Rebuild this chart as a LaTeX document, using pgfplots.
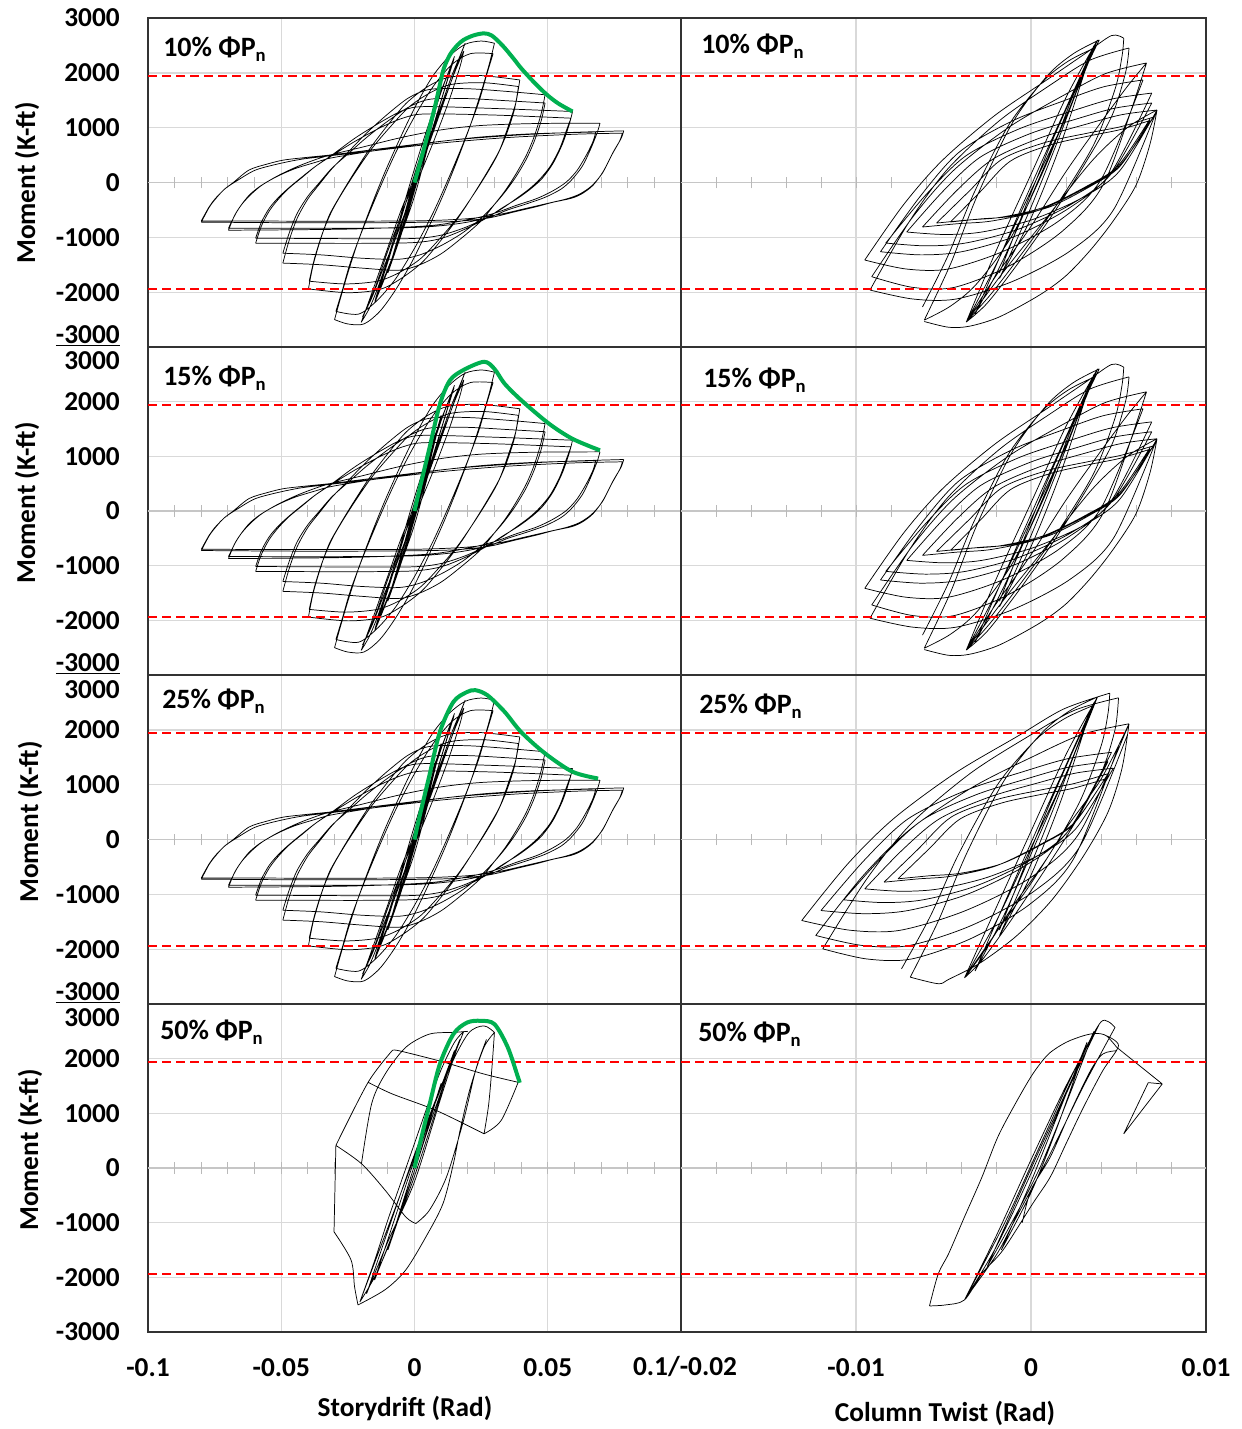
\documentclass[border=0pt]{standalone}
\usepackage{pgfplots}
\pgfplotsset{compat=1.18}
\usepackage{pgfplotstable}
\usepackage{fontspec}
\setmainfont{Carlito}
\definecolor{xlgreen}{RGB}{0,176,80}
\definecolor{gridgray}{RGB}{217,217,217}
\newcommand{\lab}{\fontsize{20.5}{24}\selectfont\bfseries}
\newcommand{\ttl}{\fontsize{21}{24}\selectfont\bfseries}
\newcommand{\sub}{\raisebox{-3.75pt}{\fontsize{14}{14}\selectfont\bfseries n}}

\pgfplotsset{
  panel/.style={
    scale only axis, anchor=north west,
    ymin=-3000, ymax=3000, ytick={-3000,-2000,...,3000},
    yticklabels={}, xticklabels={},
    xmajorgrids, ymajorgrids,
    grid style={draw=gridgray, line width=1pt},
    major tick length=0pt,
    axis line style={draw=black!80, line width=0.9pt},
    tick label style={font=\lab},
    scaled x ticks=false, scaled y ticks=false,
    unbounded coords=jump,
    yticklabel style={anchor=east, inner sep=0pt, xshift=-21pt},
    xticklabel style={anchor=north, inner sep=0pt, yshift=-19.5pt},
  },
  leftp/.style={panel, width=399.75pt, xmin=-0.1, xmax=0.1, xtick={-0.1,-0.05,0,0.05,0.1},
     yticklabels={{},-2000,-1000,0,1000,2000,{}}},
  rightp/.style={panel, width=393.75pt, xmin=-0.02, xmax=0.01, xtick={-0.02,-0.01,0,0.01}},
  loop/.style={black, line width=0.55pt, no markers, smooth, tension=0.5},
  sloop/.style={black, line width=0.55pt, no markers},
  bb/.style={xlgreen, line width=3pt, no markers, smooth, tension=0.5},
  rl/.style={red, line width=1.3pt, dash pattern=on 7pt off 3.5pt, no markers},
}
\newcommand{\zeroL}{%
 \draw[gray!45, line width=0.9pt] (axis cs:-0.1,0) -- (axis cs:0.1,0);
 \pgfplotsinvokeforeach{-0.09,-0.08,-0.07,-0.06,-0.05,-0.04,-0.03,-0.02,-0.01,0,0.01,0.02,0.03,0.04,0.05,0.06,0.07,0.08,0.09}{\draw[gray!55, line width=0.75pt] (axis cs:##1,-105) -- (axis cs:##1,105);}}
\newcommand{\zeroR}{%
 \draw[gray!45, line width=0.9pt] (axis cs:-0.02,0) -- (axis cs:0.01,0);
 \pgfplotsinvokeforeach{-0.018,-0.016,-0.014,-0.012,-0.01,-0.008,-0.006,-0.004,-0.002,0,0.002,0.004,0.006,0.008}{\draw[gray!55, line width=0.75pt] (axis cs:##1,-105) -- (axis cs:##1,105);}}
\newcommand{\redL}{\addplot[rl] coordinates {(-0.1,1940) (0.1,1940)};\addplot[rl] coordinates {(-0.1,-1940) (0.1,-1940)};}
\newcommand{\redR}{\addplot[rl] coordinates {(-0.02,1940) (0.01,1940)};\addplot[rl] coordinates {(-0.02,-1940) (0.01,-1940)};}

\pgfplotstableread{
x y
-0.005 -800
0.000 0
0.005 850
nan nan
0.005 850
0.000 -60
-0.005 -800
nan nan
-0.0075 -1250
0.000 50
0.0075 1300
nan nan
0.0075 1300
0.000 -100
-0.0075 -1250
nan nan
-0.010 -1650
-0.005 -800
0.000 80
0.005 900
0.010 1750
nan nan
0.010 1750
0.005 750
0.000 -150
-0.005 -950
-0.010 -1650
nan nan
-0.015 -2200
-0.010 -1450
-0.005 -650
0.000 150
0.005 900
0.010 1650
0.015 2300
nan nan
0.015 2300
0.010 1500
0.005 700
0.000 -150
-0.005 -900
-0.010 -1600
-0.015 -2200
nan nan
-0.0148 -2150
-0.007 -900
0.000 250
0.007 1300
0.0148 2250
nan nan
0.0148 2250
0.007 1000
0.000 -250
-0.007 -1200
-0.0148 -2150
nan nan
-0.020 -2550
-0.017 -2150
-0.013 -1600
-0.009 -1050
-0.005 -500
0.000 100
0.005 750
0.010 1400
0.014 1950
0.017 2300
0.019 2540
nan nan
0.019 2540
0.016 2150
0.012 1600
0.008 1050
0.004 500
0.000 -100
-0.005 -750
-0.010 -1400
-0.014 -1950
-0.017 -2300
-0.020 -2550
nan nan
-0.0195 -2450
-0.015 -1950
-0.010 -1250
-0.005 -600
0.000 50
0.005 700
0.010 1350
0.015 2000
0.0185 2400
nan nan
0.0185 2400
0.017 2100
0.013 1500
0.008 850
0.003 250
-0.002 -350
-0.007 -1000
-0.012 -1600
-0.016 -2100
-0.0195 -2450
nan nan
-0.030 -2500
-0.028 -2150
-0.025 -1650
-0.021 -1050
-0.016 -400
-0.011 200
-0.005 850
0.001 1450
0.007 1950
0.013 2300
0.019 2520
0.025 2580
0.030 2540
nan nan
0.030 2540
0.028 2150
0.025 1650
0.021 1050
0.016 400
0.011 -200
0.005 -850
-0.001 -1450
-0.007 -1950
-0.013 -2350
-0.019 -2580
-0.025 -2580
-0.030 -2500
nan nan
-0.0295 -2350
-0.027 -1950
-0.024 -1450
-0.019 -800
-0.013 -100
-0.007 550
0.000 1200
0.007 1750
0.014 2150
0.021 2350
0.0295 2350
nan nan
0.0295 2350
0.027 1950
0.024 1450
0.019 800
0.013 100
0.007 -550
0.000 -1200
-0.007 -1750
-0.014 -2150
-0.021 -2400
-0.0295 -2350
nan nan
-0.0398 -1940
-0.038 -1500
-0.035 -1000
-0.032 -600
-0.028 -250
-0.023 150
-0.017 600
-0.010 1050
-0.003 1450
0.005 1750
0.013 1920
0.025 1950
0.0395 1870
nan nan
0.0395 1870
0.038 1450
0.035 1000
0.032 600
0.028 250
0.023 -150
0.017 -600
0.010 -1050
0.003 -1450
-0.005 -1750
-0.013 -1950
-0.025 -2010
-0.0398 -1940
nan nan
-0.0395 -1800
-0.0375 -1380
-0.0345 -920
-0.031 -520
-0.027 -180
-0.022 200
-0.016 620
-0.009 1020
-0.002 1380
0.006 1640
0.014 1790
0.026 1820
0.039 1750
nan nan
0.039 1750
0.0375 1330
0.0345 880
0.031 490
0.027 150
0.022 -230
0.016 -650
0.009 -1050
0.002 -1400
-0.006 -1650
-0.014 -1800
-0.026 -1850
-0.0395 -1800
nan nan
-0.0494 -1470
-0.047 -1050
-0.044 -650
-0.040 -300
-0.036 -50
-0.031 250
-0.025 550
-0.018 900
-0.010 1250
-0.002 1550
0.006 1700
0.020 1710
0.035 1660
0.049 1600
nan nan
0.049 1600
0.0475 1250
0.045 850
0.042 500
0.038 150
0.034 -150
0.030 -400
0.025 -700
0.018 -1000
0.010 -1300
0.002 -1500
-0.006 -1600
-0.020 -1560
-0.035 -1500
-0.0494 -1470
nan nan
-0.0494 -1290
-0.047 -920
-0.044 -560
-0.040 -250
-0.036 -20
-0.031 260
-0.025 520
-0.018 820
-0.010 1120
-0.002 1380
0.006 1520
0.020 1530
0.035 1490
0.049 1450
nan nan
0.049 1450
0.0475 1120
0.045 760
0.042 430
0.038 100
0.034 -170
0.030 -400
0.025 -650
0.018 -920
0.010 -1150
0.002 -1320
-0.006 -1400
-0.020 -1380
-0.035 -1320
-0.0494 -1290
nan nan
-0.0596 -1106
-0.0575 -800
-0.0545 -520
-0.051 -300
-0.047 -100
-0.042 100
-0.037 300
-0.031 500
-0.022 820
-0.012 1120
-0.004 1320
0.004 1385
0.030 1350
0.0593 1295
nan nan
0.0593 1295
0.058 1050
0.0555 700
0.052 350
0.048 80
0.044 -100
0.039 -280
0.033 -460
0.027 -650
0.019 -850
0.010 -1020
0.000 -1095
-0.020 -1110
-0.0596 -1106
nan nan
-0.0596 -1015
-0.0575 -730
-0.0545 -470
-0.051 -270
-0.047 -90
-0.042 110
-0.037 300
-0.031 490
-0.022 760
-0.012 1020
-0.004 1180
0.004 1250
0.030 1230
0.0587 1173
nan nan
0.0587 1173
0.057 950
0.0545 620
0.051 300
0.047 60
0.043 -120
0.038 -300
0.033 -470
0.027 -640
0.019 -820
0.010 -960
0.000 -1020
-0.020 -1025
-0.0596 -1015
nan nan
-0.0698 -833
-0.067 -560
-0.0645 -380
-0.061 -200
-0.057 -40
-0.051 130
-0.044 290
-0.037 420
-0.031 510
-0.020 640
-0.005 820
0.010 960
0.025 1040
0.045 1075
0.0696 1082
nan nan
0.0696 1082
0.0685 900
0.066 600
0.063 300
0.059 50
0.055 -120
0.049 -270
0.042 -390
0.035 -500
0.027 -650
0.015 -760
0.000 -820
-0.030 -835
-0.0698 -833
nan nan
-0.0698 -870
-0.0675 -600
-0.065 -410
-0.062 -230
-0.058 -70
-0.052 100
-0.045 250
-0.037 370
-0.031 450
-0.015 580
0.005 720
0.025 830
0.045 890
0.068 920
nan nan
0.068 920
0.067 750
0.0645 500
0.061 220
0.057 10
0.052 -150
0.046 -290
0.038 -420
0.030 -560
0.020 -680
0.005 -790
-0.025 -850
-0.0698 -870
nan nan
-0.080 -723
-0.077 -450
-0.0745 -290
-0.0715 -130
-0.068 0
-0.062 230
-0.055 340
-0.049 410
-0.040 460
-0.031 505
-0.011 626
0.015 778
0.040 869
0.060 915
0.0785 942
nan nan
0.0785 942
0.0775 800
0.0745 550
0.0708 200
0.067 -50
0.063 -200
0.059 -286
0.052 -360
0.046 -438
0.038 -530
0.0274 -650
0.0146 -711
-0.005 -730
-0.040 -735
-0.080 -723
nan nan
-0.080 -700
-0.077 -440
-0.0745 -280
-0.071 -110
-0.067 20
-0.060 220
-0.052 330
-0.043 420
-0.033 480
-0.015 580
0.010 720
0.035 820
0.060 880
0.078 900
nan nan
0.078 900
0.077 760
0.074 500
0.0705 170
0.0665 -60
0.062 -210
0.057 -300
0.050 -380
0.042 -470
0.032 -580
0.020 -660
0.000 -700
-0.040 -705
-0.080 -700
}\LeftLoops

\pgfplotstableread{
x y
-0.0046 -720
-0.00289 -165
-0.00118 390
0.0011 686
0.00338 853
0.00509 964
0.0068 1130
nan nan
-0.0054 -740
-0.00354 -160
-0.00168 420
0.0008 729
0.00328 903
0.00514 1019
0.0070 1193
nan nan
-0.0062 -812
-0.00419 -129
-0.00218 426
0.0005 810
0.00318 1066
0.00519 1237
0.0072 1322
nan nan
-0.0071 -903
-0.0050 -150
-0.0029 462
-0.0001 885
0.0027 1168
0.0048 1356
0.0069 1450
nan nan
-0.0083 -1104
-0.00602 -229
-0.00374 482
-0.0007 975
0.00234 1303
0.00462 1522
0.0069 1631
nan nan
-0.0086 -1262
-0.00635 -260
-0.0041 555
-0.0011 1118
0.0019 1494
0.00415 1745
0.0064 1870
nan nan
-0.0091 -1718
-0.00675 -627
-0.00439 231
-0.00125 1011
0.00189 1595
0.00425 1985
0.0066 2180
nan nan
-0.0092 -1961
-0.00698 -725
-0.00476 246
-0.0018 1129
0.00116 1791
0.00338 2232
0.0056 2453
nan nan
-0.0095 -1414
-0.00728 -403
-0.00506 406
-0.0021 1215
0.00086 1862
0.00308 2347
0.0046 2680
0.0053 2630
nan nan
-0.0061 -2510
-0.0046 -1488
-0.0031 -262
-0.0011 1067
0.0009 1936
0.0024 2345
0.0039 2600
nan nan
-0.0062 -2270
-0.00473 -1326
-0.00326 -193
-0.0013 1034
0.00066 1836
0.00213 2214
0.0036 2450
nan nan
0.0068 1130
0.00509 298
0.00338 -72
0.0011 -442
-0.00118 -618
-0.00289 -664
-0.0046 -720
nan nan
0.0068 1160
0.00497 305
0.00314 -75
0.0007 -455
-0.00174 -635
-0.00357 -683
-0.0054 -740
nan nan
0.0070 1193
0.00502 291
0.00304 -110
0.0004 -511
-0.00224 -702
-0.00422 -752
-0.0062 -812
nan nan
0.0072 1322
0.00506 210
0.00291 -280
0.00005 -680
-0.00281 -903
-0.00496 -948
-0.0071 -903
nan nan
0.0069 1450
0.00462 173
0.00234 -389
-0.0007 -849
-0.00374 -1104
-0.00602 -1155
-0.0083 -1104
nan nan
0.0069 1631
0.00458 185
0.00225 -452
-0.00085 -973
-0.00395 -1262
-0.00628 -1320
-0.0086 -1262
nan nan
0.0064 1870
0.00402 64
0.00163 -692
-0.00155 -1250
-0.00473 -1578
-0.00712 -1578
-0.0095 -1414
nan nan
0.0066 2180
0.00425 36
0.00189 -860
-0.00125 -1523
-0.00439 -1913
-0.00675 -1913
-0.0091 -1718
nan nan
0.0072 1322
0.00474 -484
0.00228 -1239
-0.0010 -1797
-0.00428 -2125
-0.00674 -2125
-0.0092 -1961
nan nan
0.0072 1322
0.0068 700
0.0060 -50
0.0047 -700
0.0034 -1231
0.0020 -1700
0.0005 -2050
-0.0018 -2450
-0.0035 -2620
-0.0047 -2640
-0.0061 -2535
nan nan
0.0053 2630
0.0052 2300
0.0048 1700
0.0036 700
0.0017 -300
-0.0003 -1200
-0.0022 -2000
-0.0037 -2545
nan nan
0.0056 2453
0.0054 2000
0.0046 1200
0.0030 300
0.0012 -600
-0.0008 -1500
-0.0025 -2200
-0.0037 -2545
nan nan
0.0039 2600
0.0024 1578
0.0009 352
-0.0011 -977
-0.0031 -1846
-0.0046 -2254
-0.0061 -2510
nan nan
-0.0037 -2545
-0.002 -1250
0.000 150
0.002 1550
0.0038 2600
nan nan
0.0038 2600
0.002 1200
0.000 -150
-0.002 -1500
-0.0037 -2545
nan nan
-0.0032 -2400
-0.0015 -1150
0.0005 300
0.0022 1500
0.0036 2500
nan nan
0.0036 2500
0.0022 1350
0.0005 100
-0.0015 -1350
-0.0032 -2400
nan nan
-0.0018 -1750
0.000 -450
0.0017 900
0.0033 2250
nan nan
0.0033 2250
0.0017 700
0.000 -650
-0.0018 -1750
nan nan
-0.0037 -2545
-0.002 -1700
0.000 -800
0.002 200
0.004 1100
0.0055 1750
0.0066 2180
nan nan
-0.0037 -2545
-0.0015 -1600
0.001 -600
0.0035 400
0.0055 1000
0.0072 1322
nan nan
0.0038 2600
0.001 600
-0.0018 -1650
}\RightLoops

\pgfplotstableread{
x y
-0.0076 -717
-0.00583 -172
-0.00406 373
-0.0017 664
0.00066 827
0.00243 936
0.0042 1100
nan nan
-0.0084 -778
-0.00648 -185
-0.00456 409
-0.002 725
0.00056 903
0.00248 1022
0.0044 1200
nan nan
-0.0095 -900
-0.00737 -196
-0.00524 376
-0.0024 772
0.00044 1036
0.00257 1212
0.0047 1300
nan nan
-0.0107 -1100
-0.00843 -294
-0.00617 362
-0.00315 815
-0.00013 1118
0.00214 1319
0.0044 1420
nan nan
-0.0120 -1295
-0.00951 -372
-0.00702 378
-0.0037 898
-0.00038 1244
0.00211 1475
0.0046 1590
nan nan
-0.0123 -1750
-0.00962 -669
-0.00693 180
-0.00335 952
0.00023 1531
0.00292 1917
0.0056 2110
nan nan
-0.0119 -1994
-0.00937 -712
-0.00683 295
-0.00345 1211
-0.00007 1897
0.00247 2355
0.0050 2584
nan nan
-0.0131 -1477
-0.01046 -440
-0.00782 389
-0.0043 1218
-0.00078 1881
0.00186 2379
0.0045 2669
nan nan
-0.0069 -2510
-0.0053 -1488
-0.00369 -262
-0.00155 1067
0.00059 1936
0.0022 2345
0.0038 2600
nan nan
-0.0074 -2359
-0.00575 -1397
-0.0041 -243
-0.0019 1007
0.0003 1825
0.00195 2210
0.0036 2450
nan nan
0.0042 1100
0.00243 282
0.00066 -81
-0.0017 -444
-0.00406 -617
-0.00583 -662
-0.0076 -717
nan nan
0.0044 1200
0.00248 310
0.00056 -86
-0.002 -481
-0.00456 -669
-0.00648 -719
-0.0084 -778
nan nan
0.0047 1300
0.00257 200
0.00044 -284
-0.0024 -680
-0.00524 -900
-0.00737 -944
-0.0095 -900
nan nan
0.0044 1420
0.00214 160
-0.00013 -394
-0.00315 -848
-0.00617 -1100
-0.00843 -1150
-0.0107 -1100
nan nan
0.0046 1590
0.00211 148
-0.00038 -487
-0.0037 -1006
-0.00702 -1295
-0.00951 -1353
-0.0120 -1295
nan nan
0.0056 2110
0.0028 137
0.00001 -688
-0.00375 -1298
-0.00749 -1656
-0.0103 -1656
-0.0131 -1477
nan nan
0.0055 1900
0.00283 -107
0.00016 -947
-0.0034 -1567
-0.00696 -1933
-0.00963 -1933
-0.0123 -1750
nan nan
0.0050 1700
0.00247 -332
-0.00007 -1181
-0.00345 -1809
-0.00683 -2179
-0.00937 -2179
-0.0119 -1994
nan nan
0.0056 2110
0.0052 1300
0.0044 500
0.0030 -300
0.0012 -1100
-0.0008 -1750
-0.0029 -2250
-0.0047 -2550
-0.0053 -2630
-0.0069 -2510
nan nan
0.0045 2669
0.0044 2300
0.0040 1700
0.0028 700
0.0010 -300
-0.0010 -1200
-0.0026 -2000
-0.0038 -2523
nan nan
0.0050 2584
0.0048 2000
0.0040 1200
0.0025 300
0.0007 -600
-0.0012 -1500
-0.0028 -2200
-0.0038 -2523
nan nan
-0.0038 -2523
-0.002 -1250
0.000 150
0.002 1550
0.0038 2600
nan nan
0.0038 2600
0.002 1200
0.000 -150
-0.002 -1500
-0.0038 -2523
nan nan
-0.0032 -2400
-0.0015 -1150
0.0005 300
0.0022 1500
0.0036 2500
nan nan
0.0036 2500
0.0022 1350
0.0005 100
-0.0015 -1350
-0.0032 -2400
nan nan
-0.0018 -1750
0.000 -450
0.0017 900
0.0033 2250
nan nan
0.0033 2250
0.0017 700
0.000 -650
-0.0018 -1750
nan nan
-0.0038 -2523
-0.002 -1700
0.000 -800
0.002 200
0.004 1100
0.0056 2110
nan nan
0.0038 2600
0.001 600
-0.0018 -1650
}\RightLoopsC

\pgfplotstableread{
x y
-0.0205 -2450
-0.015 -1700
-0.010 -950
-0.005 -250
0.000 450
0.005 1150
0.010 1800
0.015 2300
0.0185 2500
nan nan
0.0185 2500
0.014 1950
0.010 1400
0.005 700
0.000 -50
-0.005 -750
-0.010 -1450
-0.015 -2000
-0.0205 -2450
nan nan
-0.018 -2300
-0.010 -1150
0.000 250
0.010 1500
0.017 2350
nan nan
0.017 2350
0.010 1300
0.000 -250
-0.010 -1350
-0.018 -2300
nan nan
-0.015 -2050
0.000 150
0.015 2150
nan nan
0.015 2150
0.000 -150
-0.015 -2050
nan nan
-0.010 -1500
0.000 50
0.010 1550
nan nan
0.010 1550
0.000 -50
-0.010 -1500
nan nan
-0.0205 -2450
-0.012 -1350
0.000 200
0.012 1700
0.020 2450
0.026 2600
0.030 2480
nan nan
-0.0212 -2505
-0.011 -2225
-0.0033 -1866
0.0043 -1258
0.0107 -650
0.0146 80
0.0171 690
0.021 1480
0.026 2200
0.030 2480
nan nan
0.030 2480
0.029 1800
0.0278 1150
0.0261 626
nan nan
0.0261 626
0.0325 869
0.0389 1568
nan nan
0.0389 1568
0.026 1720
0.010 1950
-0.0059 2146
-0.0084 2146
nan nan
-0.0084 2146
-0.0174 1568
-0.0295 413
nan nan
-0.0295 413
-0.0302 -1167
nan nan
-0.0302 -1167
-0.0238 -1684
-0.0225 -2170
-0.0212 -2505
nan nan
-0.0174 1568
-0.0084 1356
0.0082 1052
0.0261 626
nan nan
-0.0295 413
-0.0199 79
-0.011 -407
-0.0033 -894
0.0005 -1015
nan nan
0.0005 -1015
0.0056 -772
0.012 -164
0.0184 869
0.023 1800
0.027 2350
nan nan
-0.0199 79
-0.0161 1173
-0.011 1720
-0.0033 2207
0.0056 2450
0.0146 2480
0.020 2500
}\LeftLoopsD

\pgfplotstableread{
x y
-0.0058 -2523
-0.0053 -1936
-0.0047 -1562
-0.0038 -894
-0.0028 -164
-0.0019 565
-0.0009 1173
0.0001 1720
0.0010 2085
0.0020 2298
0.0030 2420
0.0037 2462
0.0043 2420
0.0049 2207
nan nan
0.0043 2420
0.0050 2237
0.0041 1781
0.0030 1112
0.0020 444
0.0011 -164
0.0001 -650
-0.0016 -1501
-0.0028 -1927
-0.0038 -2413
-0.0049 -2505
-0.0058 -2523
nan nan
-0.0038 -2413
-0.0020 -1250
0.0000 150
0.0020 1500
0.0039 2632
nan nan
0.0039 2632
0.0020 1350
0.0000 -100
-0.0020 -1450
-0.0038 -2413
nan nan
-0.0038 -2413
-0.0015 -1000
0.0005 400
0.0025 1800
0.0039 2632
0.0044 2680
0.0048 2571
nan nan
0.0048 2571
0.0040 2100
0.0030 1500
0.0020 850
0.0010 200
0.0000 -400
-0.0010 -1000
-0.0020 -1600
-0.0038 -2413
nan nan
-0.0017 -1500
0.0000 -250
0.0015 950
0.0032 2300
nan nan
0.0032 2300
0.0015 750
0.0000 -450
-0.0017 -1500
nan nan
-0.0025 -1800
0.0003 200
0.0036 2500
nan nan
0.0036 2500
0.0005 0
-0.0025 -1800
nan nan
0.0049 2146
0.0041 2085
0.0034 1781
0.0022 990
0.0011 200
0.0000 -400
-0.0005 -1000
}\RightLoopsD

\pgfplotstableread{
x y
0.0049 2207
0.0075 1538
nan nan
0.0075 1538
0.0067 1562
nan nan
0.0067 1562
0.0053 626
nan nan
0.0053 626
0.0075 1538
}\RightTail

\begin{document}
\begin{tikzpicture}
\useasboundingbox (0,0) rectangle (931.5pt,-1071.75pt);

\begin{axis}[leftp, at={(111pt,-13.5pt)}, height=246.75pt]
\zeroL
\addplot[loop] table {\LeftLoops};
\redL
\addplot[bb] coordinates {(0,0) (0.003,520) (0.0056,990) (0.008,1450) (0.0095,1780) (0.011,2080) (0.0133,2330) (0.016,2500) (0.0184,2600) (0.022,2680) (0.026,2720) (0.029,2680) (0.033,2500) (0.037,2270) (0.040,2085) (0.045,1820) (0.0497,1600) (0.054,1440) (0.0593,1295)};
\end{axis}
\begin{axis}[rightp, at={(510.75pt,-13.5pt)}, height=246.75pt]
\zeroR
\addplot[loop] table {\RightLoops};
\redR
\end{axis}

\begin{axis}[leftp, at={(111pt,-260.25pt)}, height=246pt]
\zeroL
\addplot[loop] table {\LeftLoops};
\redL
\addplot[bb] coordinates {(0,0) (0.0018,380) (0.0056,1150) (0.0095,1950) (0.0133,2390) (0.0184,2580) (0.0261,2730) (0.030,2600) (0.0338,2330) (0.0402,2020) (0.0504,1600) (0.0593,1320) (0.0696,1110)};
\end{axis}
\begin{axis}[rightp, at={(510.75pt,-260.25pt)}, height=246pt]
\zeroR
\addplot[loop] table {\RightLoops};
\redR
\end{axis}

\begin{axis}[leftp, at={(111pt,-506.25pt)}, height=246.75pt]
\zeroL
\addplot[loop] table {\LeftLoops};
\redL
\addplot[bb] coordinates {(0,0) (0.0018,400) (0.0056,1170) (0.0095,1960) (0.0146,2510) (0.0197,2690) (0.0229,2723) (0.0274,2630) (0.0338,2330) (0.040,1960) (0.049,1570) (0.0593,1235) (0.0689,1112)};
\end{axis}
\begin{axis}[rightp, at={(510.75pt,-506.25pt)}, height=246.75pt]
\zeroR
\addplot[loop] table {\RightLoopsC};
\redR
\end{axis}

\begin{axis}[leftp, at={(111pt,-753pt)}, height=246pt, xticklabels={-0.1,-0.05,0,0.05,{}}]
\zeroL
\addplot[loop] table {\LeftLoopsD};
\redL
\addplot[bb] coordinates {(0,0) (0.0018,400) (0.0056,1150) (0.0095,1900) (0.0146,2450) (0.0197,2660) (0.0248,2693) (0.030,2632) (0.035,2207) (0.0389,1650) (0.0395,1560)};
\end{axis}
\begin{axis}[rightp, at={(510.75pt,-753pt)}, height=246pt, xticklabels={{},-0.01,0,0.01}]
\zeroR
\addplot[loop] table {\RightLoopsD};
\addplot[sloop] table {\RightTail};
\redR
\end{axis}

\node[anchor=base east, inner sep=0pt, font=\lab] at (90pt,-19.9pt) {3000};
\node[anchor=base east, inner sep=0pt, font=\lab] at (90pt,-257.6pt) {\underline{-3000}};
\node[anchor=base east, inner sep=0pt, font=\lab] at (90pt,-277.1pt) {3000};
\node[anchor=base east, inner sep=0pt, font=\lab] at (90pt,-503.6pt) {\underline{-3000}};
\node[anchor=base east, inner sep=0pt, font=\lab] at (90pt,-523.9pt) {3000};
\node[anchor=base east, inner sep=0pt, font=\lab] at (90pt,-750.4pt) {\underline{-3000}};
\node[anchor=base east, inner sep=0pt, font=\lab] at (90pt,-769.9pt) {3000};
\node[anchor=base east, inner sep=0pt, font=\lab] at (90pt,-1005.4pt) {-3000};

\node[rotate=90, font=\lab] at (20.25pt,-137.25pt) {Moment (K-ft)};
\node[rotate=90, font=\lab] at (20.25pt,-377.25pt) {Moment (K-ft)};
\node[rotate=90, font=\lab] at (22.5pt,-616.5pt) {Moment (K-ft)};
\node[rotate=90, font=\lab] at (22.5pt,-862.5pt) {Moment (K-ft)};

\node[anchor=base west, inner sep=0pt, font=\ttl] at (122.25pt,-42pt) {10\% ΦP\sub};
\node[anchor=base west, inner sep=0pt, font=\ttl] at (525.75pt,-39.75pt) {10\% ΦP\sub};
\node[anchor=base west, inner sep=0pt, font=\ttl] at (122.25pt,-288.75pt) {15\% ΦP\sub};
\node[anchor=base west, inner sep=0pt, font=\ttl] at (527.25pt,-290.25pt) {15\% ΦP\sub};
\node[anchor=base west, inner sep=0pt, font=\ttl] at (121.5pt,-531pt) {25\% ΦP\sub};
\node[anchor=base west, inner sep=0pt, font=\ttl] at (524.25pt,-534.75pt) {25\% ΦP\sub};
\node[anchor=base west, inner sep=0pt, font=\ttl] at (120pt,-779.25pt) {50\% ΦP\sub};
\node[anchor=base west, inner sep=0pt, font=\ttl] at (523.5pt,-780.75pt) {50\% ΦP\sub};

\node[anchor=base, inner sep=0pt, font=\lab] at (513.75pt,-1031.5pt) {0.1/-0.02};
\node[anchor=base, inner sep=0pt, font=\lab] at (303.75pt,-1062pt) {Storydrift (Rad)};
\node[anchor=base, inner sep=0pt, font=\lab] at (708.75pt,-1065.75pt) {Column Twist (Rad)};
\end{tikzpicture}
\end{document}
